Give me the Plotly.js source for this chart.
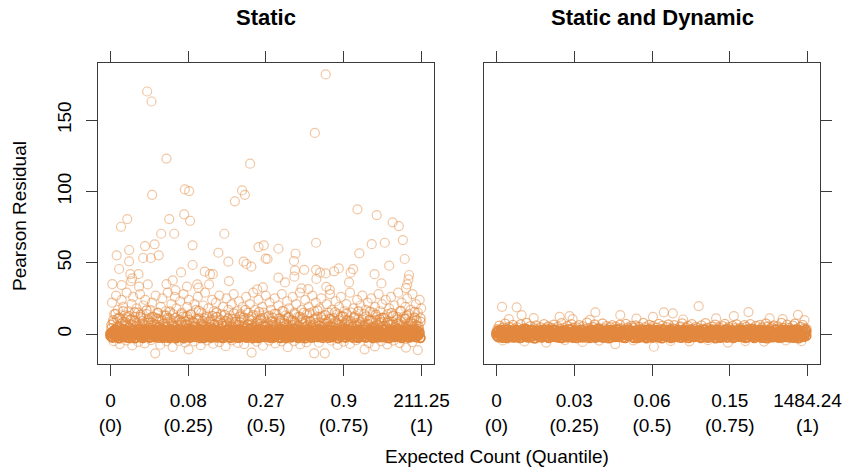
<!DOCTYPE html>
<html>
<head>
<meta charset="utf-8">
<script src="https://cdn.plot.ly/plotly-3.0.1.min.js"></script>
<style>html,body{margin:0;padding:0;background:#fff;}#chart{width:842px;height:470px;}</style>
</head>
<body>
<div id="chart"></div>
<script>
// ---- tick labels / panel names ----
const panelNames = ["Static", "Static and Dynamic"];
const quantileTicks = [0, 0.25, 0.5, 0.75, 1];
const staticTickText = ["0<br>(0)", "0.08<br>(0.25)", "0.27<br>(0.5)", "0.9<br>(0.75)", "211.25<br>(1)"];
const dynamicTickText = ["0<br>(0)", "0.03<br>(0.25)", "0.06<br>(0.5)", "0.15<br>(0.75)", "1484.24<br>(1)"];
const residualTicks = [0, 50, 100, 150];

// ---- shared quantile positions of the dense band near zero ----
const coreQ = [
0.000,0.004,0.007,0.011,0.014,0.018,0.021,0.025,0.029,0.032,
0.036,0.039,0.043,0.046,0.050,0.054,0.057,0.061,0.064,0.068,
0.071,0.075,0.079,0.082,0.086,0.089,0.093,0.096,0.100,0.104,
0.107,0.111,0.114,0.118,0.121,0.125,0.129,0.132,0.136,0.139,
0.143,0.146,0.150,0.154,0.157,0.161,0.164,0.168,0.171,0.175,
0.179,0.182,0.186,0.189,0.193,0.196,0.200,0.204,0.207,0.211,
0.214,0.218,0.221,0.225,0.229,0.232,0.236,0.239,0.243,0.246,
0.250,0.254,0.257,0.261,0.264,0.268,0.271,0.275,0.279,0.282,
0.286,0.289,0.293,0.296,0.300,0.304,0.307,0.311,0.314,0.318,
0.321,0.325,0.329,0.332,0.336,0.339,0.343,0.346,0.350,0.354,
0.357,0.361,0.364,0.368,0.371,0.375,0.379,0.382,0.386,0.389,
0.393,0.396,0.400,0.404,0.407,0.411,0.414,0.418,0.421,0.425,
0.429,0.432,0.436,0.439,0.443,0.446,0.450,0.454,0.457,0.461,
0.464,0.468,0.471,0.475,0.479,0.482,0.486,0.489,0.493,0.496,
0.500,0.504,0.507,0.511,0.514,0.518,0.521,0.525,0.529,0.532,
0.536,0.539,0.543,0.546,0.550,0.554,0.557,0.561,0.564,0.568,
0.571,0.575,0.579,0.582,0.586,0.589,0.593,0.596,0.600,0.604,
0.607,0.611,0.614,0.618,0.621,0.625,0.629,0.632,0.636,0.639,
0.643,0.646,0.650,0.654,0.657,0.661,0.664,0.668,0.671,0.675,
0.679,0.682,0.686,0.689,0.693,0.696,0.700,0.704,0.707,0.711,
0.714,0.718,0.721,0.725,0.729,0.732,0.736,0.739,0.743,0.746,
0.750,0.754,0.757,0.761,0.764,0.768,0.771,0.775,0.779,0.782,
0.786,0.789,0.793,0.796,0.800,0.804,0.807,0.811,0.814,0.818,
0.821,0.825,0.829,0.832,0.836,0.839,0.843,0.846,0.850,0.854,
0.857,0.861,0.864,0.868,0.871,0.875,0.879,0.882,0.886,0.889,
0.893,0.896,0.900,0.904,0.907,0.911,0.914,0.918,0.921,0.925,
0.929,0.932,0.936,0.939,0.943,0.946,0.950,0.954,0.957,0.961,
0.964,0.968,0.971,0.975,0.979,0.982,0.986,0.989,0.993,0.996];

const staticCoreA = [
-1.2,0.8,-2.5,1.9,-0.3,2.7,-1.8,0.2,-2.9,1.4,-0.7,3.1,-1.5,0.5,-2.2,2.3,-0.1,1.1,-2.7,0.9,
2.8,-1.0,0.3,-2.4,1.7,-0.5,3.3,-1.9,0.6,-2.8,2.1,-0.2,1.3,-1.6,0.0,2.6,-2.3,1.0,-0.8,3.0,
-2.0,0.4,1.8,-1.3,2.9,-0.6,0.1,-2.6,1.5,-1.1,2.4,-0.4,0.7,-2.1,3.2,-1.7,1.2,-0.9,2.0,-2.9,
0.6,-1.4,2.5,-0.2,1.6,-2.5,0.9,-0.7,3.4,-1.8,0.2,-2.3,1.9,-1.0,2.8,-0.3,1.1,-2.0,0.5,2.2,
-1.6,3.0,-0.5,1.4,-2.7,0.8,-1.2,2.6,-0.1,1.7,-2.2,0.3,-0.9,3.1,-1.9,1.0,-2.4,2.1,-0.6,0.4,
1.5,-2.8,0.7,-1.1,2.3,-0.4,3.3,-2.1,0.0,1.8,-1.5,2.7,-0.8,0.6,-2.6,1.3,-0.2,2.9,-1.7,0.9,
-0.3,2.0,-2.4,1.1,-1.0,3.2,-0.7,0.5,-2.9,1.6,-0.1,2.5,-1.8,0.2,1.9,-2.2,0.8,-1.3,2.8,-0.5,
1.0,-2.0,2.4,-0.6,0.3,-1.6,3.0,-2.5,1.2,-0.9,2.1,-0.2,0.7,-2.8,1.7,-1.2,2.6,-0.4,0.1,-1.9,
2.9,-0.8,1.4,-2.3,0.6,-1.4,3.4,-0.3,1.0,-2.7,2.2,-1.1,0.4,-2.0,1.8,-0.6,2.7,-1.5,0.0,1.3,
-2.4,0.9,-0.5,2.5,-1.7,0.2,3.1,-2.1,1.5,-0.9,0.7,-2.6,2.0,-0.1,1.1,-1.3,2.9,-0.7,0.5,-2.2,
1.6,-1.0,2.3,-0.4,0.8,-2.9,1.9,-1.6,0.3,3.2,-0.8,1.2,-2.3,0.6,-1.1,2.6,-0.2,1.0,-2.5,0.4,
2.1,-1.4,0.1,-2.0,2.8,-0.6,1.4,-1.8,0.9,3.0,-2.4,0.5,-0.3,1.7,-1.2,2.4,-2.7,0.2,1.3,-0.9,
-1.5,2.7,0.0,-2.2,1.1,-0.5,3.3,-1.7,0.6,-2.6,1.8,-0.1,2.2,-1.0,0.8,-2.1,2.5,-0.7,1.5,-1.9,
0.3,2.0,-2.8,0.7,-1.3,2.9,-0.4,1.2,-2.3,0.1,1.6,-1.5,3.1,-0.6,0.9,-2.0,2.3,-1.1,0.4,-2.7];

const staticCoreB = [
0.4,-2.1,1.6,-0.8,2.9,-1.4,0.1,-2.7,2.2,-0.5,1.0,-1.9,3.2,-0.2,0.7,-2.4,1.8,-1.1,0.3,2.5,
-1.6,0.9,-2.9,1.4,-0.4,2.7,-1.2,0.5,-2.2,1.9,-0.7,3.0,-1.8,0.2,1.2,-2.5,2.1,-0.3,0.8,-1.5,
2.4,-0.9,0.6,-2.6,1.5,-0.1,3.3,-1.7,1.0,-2.3,0.3,2.0,-1.0,-2.8,1.7,-0.6,2.6,-1.3,0.0,1.3,
-2.0,2.8,-0.5,1.1,-1.6,0.4,-2.9,2.3,-0.2,1.6,-1.1,3.1,-2.4,0.8,-0.8,1.9,-1.9,0.5,2.7,-0.4,
1.2,-2.7,0.2,2.1,-1.3,-0.3,3.4,-2.0,0.9,-0.9,1.7,-2.5,2.4,-0.6,0.1,-1.6,2.9,-1.0,0.6,-2.2,
-0.1,1.8,-2.3,0.7,-1.4,2.6,-0.7,1.3,-2.8,0.4,2.2,-1.2,-0.2,3.0,-1.8,1.0,-2.6,2.0,-0.5,0.9,
2.3,-1.7,0.0,-2.4,1.4,-0.8,2.9,-1.5,0.6,-2.0,1.9,-0.3,3.2,-2.7,0.3,1.1,-1.1,2.5,-0.6,-2.1,
0.8,2.0,-1.3,0.2,-2.6,1.6,-0.4,2.8,-1.9,0.5,-0.9,1.3,-2.2,3.1,-0.1,0.9,-1.6,2.2,-2.8,1.5,
-0.7,2.6,-2.0,1.0,-1.0,0.3,3.3,-1.4,1.7,-2.5,0.1,2.3,-0.5,-1.8,1.2,-2.9,2.7,-0.2,0.6,-1.2,
1.9,-0.6,-2.4,0.8,2.4,-1.5,0.0,-2.1,1.5,3.0,-0.9,0.4,-1.7,2.1,-0.3,1.1,-2.6,0.7,2.8,-1.3,
-1.9,0.6,2.2,-0.4,1.3,-2.8,0.9,-1.1,2.7,-0.2,1.6,-2.3,0.2,3.2,-1.4,0.5,-0.8,2.0,-2.0,1.0,
0.3,-1.6,2.5,-2.7,0.7,1.8,-0.6,-1.9,3.1,0.1,-2.2,1.4,-0.9,2.3,-1.3,0.8,-2.5,1.9,-0.1,2.6,
-2.3,1.1,-0.3,2.0,-1.5,0.4,2.9,-2.1,0.9,-0.7,1.7,-2.9,0.6,2.4,-1.0,-0.2,1.5,-1.8,3.3,0.2,
1.6,-1.1,0.5,-2.5,2.1,-0.5,1.2,-1.7,3.0,-2.4,0.0,1.8,-1.4,0.7,2.7,-2.0,0.3,-0.9,1.4,-2.6];

const dynamicCoreA = [
0.9,-1.7,2.6,-0.4,1.3,-2.5,0.2,3.1,-1.1,0.6,-2.8,1.8,-0.7,2.3,-1.9,0.0,1.5,-2.2,2.9,-0.3,
-1.4,0.5,-2.6,1.9,-0.6,3.3,-1.0,0.8,-2.3,1.2,-0.1,2.7,-1.8,0.3,-2.9,1.6,-0.8,2.2,-1.3,0.7,
2.0,-2.4,1.0,-0.2,2.8,-1.6,0.4,-2.7,1.7,-0.9,3.0,-1.2,0.1,-2.0,2.4,-0.5,1.1,-2.6,0.6,1.9,
-0.6,2.5,-1.5,0.3,-2.2,1.4,-0.3,3.2,-1.9,0.9,-1.1,2.1,-2.8,0.5,1.6,-0.7,2.8,-1.4,0.0,-2.4,
1.3,-0.8,2.2,-2.1,0.7,-1.3,2.9,-0.4,1.8,-2.6,0.2,1.0,-1.7,3.1,-0.1,-2.3,1.5,-0.9,2.4,-1.6,
0.4,-2.9,1.7,-0.5,2.6,-1.2,0.8,-2.0,3.4,-0.7,1.2,-1.8,0.3,2.0,-2.5,0.9,-0.2,2.7,-1.4,0.1,
-1.0,2.3,-0.3,1.4,-2.7,0.6,-1.5,2.9,-0.6,1.1,-2.2,0.0,2.5,-1.1,0.7,-2.9,1.9,-0.4,3.0,-1.7,
2.1,-0.1,-1.9,1.0,-0.9,2.7,-2.4,0.4,1.6,-1.3,3.3,-0.6,0.8,-2.1,1.3,-0.2,2.2,-2.7,0.5,-1.0,
-2.0,1.5,0.1,-1.6,2.8,-0.8,0.9,-2.5,1.9,-0.3,2.4,-1.4,0.2,-2.8,1.1,3.1,-1.2,0.6,-0.5,2.0,
0.7,-1.5,2.6,-0.2,-2.3,1.2,-1.0,3.0,-0.7,0.3,-2.6,1.7,-1.8,2.3,0.0,-1.1,1.4,-2.9,2.9,-0.4,
1.8,-2.2,0.5,-0.9,2.1,-1.7,0.2,3.2,-2.4,1.0,-0.5,1.6,-1.3,2.7,-0.1,-2.0,0.9,2.4,-0.8,0.3,
-1.2,2.8,-0.6,1.3,-2.7,0.4,-1.9,2.0,0.8,-0.3,3.4,-2.1,1.1,-1.0,0.6,2.5,-1.6,0.0,1.7,-2.5,
0.2,1.9,-2.8,0.9,-1.4,2.6,-0.5,1.5,-2.2,0.5,-1.2,3.0,-0.2,1.0,-2.6,2.2,-0.9,0.7,-1.8,2.8,
-0.4,1.1,-2.0,2.4,-1.1,0.3,-2.5,1.8,-0.7,2.9,-1.5,0.6,-2.9,1.4,0.1,-0.8,2.1,-1.9,0.4,1.6];

const dynamicCoreB = [
-0.5,1.6,-2.2,0.3,2.8,-1.3,0.9,-2.6,1.2,-0.2,3.1,-1.8,0.6,-0.9,2.0,-2.4,1.4,0.0,-1.5,2.5,
1.0,-2.7,0.4,2.2,-1.0,0.8,-1.9,3.3,-0.4,1.5,-2.3,0.1,2.6,-1.2,0.5,-2.9,1.8,-0.6,2.3,-1.6,
-2.1,0.7,2.9,-0.8,1.3,-1.5,0.2,-2.5,2.4,-0.1,1.0,-1.9,3.0,-0.7,0.4,-2.2,1.7,-1.1,0.9,-2.8,
2.6,-0.3,1.1,-2.0,0.6,-1.2,3.2,-0.9,1.8,-2.6,0.0,2.1,-1.5,0.8,-0.5,1.5,-2.3,2.8,-1.0,0.3,
-1.8,2.0,-0.2,1.4,-2.8,0.5,2.5,-1.4,0.1,-2.1,1.9,-0.6,3.4,-1.7,0.9,-0.3,2.2,-2.5,1.2,-0.8,
0.6,-1.1,2.7,-2.4,1.0,-0.4,1.7,-1.8,0.3,2.9,-2.0,0.7,-1.3,2.3,-0.1,1.3,-2.7,0.4,3.1,-1.4,
1.5,-0.7,0.2,-2.3,2.1,-1.0,0.9,-2.8,1.6,0.0,-1.6,2.6,-0.5,1.1,-2.2,0.5,3.0,-1.2,0.8,-0.2,
-2.5,1.2,-0.8,2.4,-1.7,0.1,2.0,-0.6,1.4,-2.9,0.6,2.7,-1.1,-0.3,1.8,-2.0,0.3,3.3,-1.5,0.9,
0.0,-1.9,2.3,-0.5,1.1,-2.4,0.7,1.9,-1.2,3.0,-0.9,0.4,-2.6,1.6,-0.2,2.5,-1.7,0.8,-2.1,1.3,
2.2,-1.4,0.5,-0.1,-2.7,1.8,-0.8,2.9,-1.9,0.2,1.4,-2.3,0.9,-0.4,3.2,-1.1,0.6,-2.5,1.9,-0.6,
-1.3,0.8,-2.6,1.7,0.1,-1.0,2.6,-2.2,1.0,-0.3,2.0,-1.6,0.3,-2.8,1.5,0.7,-0.7,2.4,-1.9,3.1,
1.1,-2.0,1.9,-0.9,0.4,-2.5,2.8,-0.2,1.3,-1.5,0.0,2.3,-2.7,0.6,-1.2,1.7,-0.4,3.0,-2.3,0.8,
-0.6,2.5,-1.6,0.2,-2.9,1.4,-0.5,2.1,-1.3,0.9,-2.1,3.2,-0.8,1.2,-1.8,0.3,2.7,-2.4,0.5,-1.0,
2.0,-0.9,0.7,-2.2,1.6,-0.3,2.8,-1.7,0.4,-2.6,1.1,-0.7,2.4,-1.4,0.0,-2.0,1.8,-0.6,2.9,-1.2];

// ---- shared quantile positions of the fuzzy fringe just above the band ----
const fringeQ = [
0.003,0.009,0.016,0.022,0.028,0.034,0.041,0.047,0.053,0.059,
0.066,0.072,0.078,0.084,0.091,0.097,0.103,0.109,0.116,0.122,
0.128,0.134,0.141,0.147,0.153,0.159,0.166,0.172,0.178,0.184,
0.191,0.197,0.203,0.209,0.216,0.222,0.228,0.234,0.241,0.247,
0.253,0.259,0.266,0.272,0.278,0.284,0.291,0.297,0.303,0.309,
0.316,0.322,0.328,0.334,0.341,0.347,0.353,0.359,0.366,0.372,
0.378,0.384,0.391,0.397,0.403,0.409,0.416,0.422,0.428,0.434,
0.441,0.447,0.453,0.459,0.466,0.472,0.478,0.484,0.491,0.497,
0.503,0.509,0.516,0.522,0.528,0.534,0.541,0.547,0.553,0.559,
0.566,0.572,0.578,0.584,0.591,0.597,0.603,0.609,0.616,0.622,
0.628,0.634,0.641,0.647,0.653,0.659,0.666,0.672,0.678,0.684,
0.691,0.697,0.703,0.709,0.716,0.722,0.728,0.734,0.741,0.747,
0.753,0.759,0.766,0.772,0.778,0.784,0.791,0.797,0.803,0.809,
0.816,0.822,0.828,0.834,0.841,0.847,0.853,0.859,0.866,0.872,
0.878,0.884,0.891,0.897,0.903,0.909,0.916,0.922,0.928,0.934,
0.941,0.947,0.953,0.959,0.966,0.972,0.978,0.984,0.991,0.997];

const staticFringeR = [
4.2,7.8,3.5,10.6,5.1,3.9,8.7,6.0,11.8,4.6,
6.9,3.3,9.4,5.5,4.0,12.1,7.2,3.7,5.8,9.9,
4.4,8.1,3.2,6.5,10.8,4.9,3.6,7.5,5.2,11.3,
3.8,6.2,9.0,4.3,5.7,3.4,8.4,12.4,4.7,6.8,
10.1,3.6,5.4,7.9,4.1,9.6,3.3,6.4,11.0,5.0,
4.5,8.9,3.9,6.7,12.0,4.8,3.5,7.3,5.6,9.2,
3.7,5.9,10.4,4.2,7.0,3.4,8.6,5.3,11.6,4.0,
6.6,3.8,9.8,5.0,4.4,7.7,3.2,10.9,6.1,4.9,
8.2,3.6,5.5,11.5,4.3,6.9,3.9,9.3,5.1,7.6,
4.7,12.2,3.5,6.3,8.8,4.1,5.7,3.3,10.3,7.1,
5.4,3.9,9.1,4.6,6.6,11.1,3.7,8.0,5.0,4.2,
7.4,3.4,10.7,5.8,4.5,8.5,3.8,6.2,12.3,4.9,
3.6,9.5,5.3,7.2,4.0,11.9,6.0,3.5,8.3,5.6,
4.8,6.8,3.3,10.0,5.2,4.4,9.7,3.9,7.8,11.4,
5.9,4.1,8.0,3.6,6.4,12.5,4.7,7.1,3.4,9.0,
4.3,10.5,5.5,3.8,7.6,4.9,11.7,6.3,3.5,8.7];

const staticFringeR2 = [
6.5,9.8,14.2,5.4,11.7,7.3,16.1,8.6,5.9,12.8,
10.2,6.1,15.3,7.8,5.2,13.6,9.1,6.8,16.7,8.0,
5.7,12.1,7.0,10.9,14.8,6.3,9.5,5.1,13.0,8.4,
15.9,7.5,5.5,11.3,6.7,9.9,14.0,5.8,8.8,12.5,
6.0,13.8,8.2,5.3,10.6,16.4,7.1,9.3,5.6,11.9,
8.7,5.0,12.7,6.9,15.1,7.7,10.0,5.9,13.4,6.4,
11.0,7.9,5.4,14.5,8.5,6.2,12.3,9.7,5.2,16.9,
7.2,10.4,6.6,13.2,5.8,9.0,15.6,7.4,11.5,6.0,
5.3,12.9,8.9,6.5,14.3,5.7,10.8,7.6,16.2,9.4,
6.8,11.4,5.1,9.6,13.9,7.0,5.5,12.2,8.1,15.0,
9.2,6.3,14.7,5.9,10.3,7.8,16.6,6.1,11.8,5.4,
13.3,8.3,5.6,10.7,6.9,15.4,7.3,9.8,5.0,12.6,
7.6,14.1,6.4,9.1,5.2,11.2,8.0,16.0,6.7,10.1,
5.8,12.4,7.1,15.7,9.5,5.4,13.7,6.2,10.5,8.6,
11.6,5.5,9.0,6.6,14.9,8.4,5.1,12.0,7.5,16.3,
6.1,10.9,13.1,5.7,8.8,7.2,15.5,9.7,5.3,11.1];

const dynamicFringeR = [
3.4,5.9,2.8,4.6,7.3,3.1,5.0,2.6,6.4,3.8,
4.9,2.7,6.8,3.5,4.2,7.9,3.0,5.5,2.9,4.0,
6.1,3.3,4.8,2.5,7.0,3.9,5.3,3.2,4.4,6.6,
2.8,5.1,3.6,7.6,4.1,2.6,5.8,3.4,6.9,4.5,
3.0,4.7,6.3,2.9,5.4,3.7,8.0,4.2,2.7,5.0,
6.7,3.5,4.4,2.6,7.4,3.9,5.6,3.1,4.8,6.2,
2.9,5.2,3.8,6.5,4.0,2.8,7.2,4.6,3.3,5.7,
4.3,6.0,2.7,5.1,3.6,7.8,4.9,3.0,6.4,3.9,
5.5,2.9,4.5,7.1,3.4,5.9,2.6,4.8,6.7,3.2,
4.1,6.3,3.7,2.8,5.3,7.5,3.1,4.6,5.8,2.9,
6.9,3.6,5.0,4.2,2.7,6.1,3.8,7.7,4.4,3.3,
5.2,2.8,6.6,3.5,4.7,3.0,5.6,7.2,3.9,4.9,
2.6,5.8,4.1,6.8,3.2,4.5,2.9,6.2,5.1,3.7,
7.0,4.0,3.4,5.7,2.8,6.5,4.6,3.1,7.4,5.3,
3.6,4.8,6.0,2.7,5.4,3.9,7.9,4.3,3.0,6.6,
4.4,3.2,5.9,7.3,3.8,2.9,5.0,6.4,4.2,3.5];

// ---- Static model: moderate residuals (about 9 to 29) ----
const staticMidQ = [0.005,0.012,0.018,0.024,0.03,0.036,0.041,0.047,0.052,0.058,0.063,0.068,0.073,0.079,0.084,0.089,0.095,0.1,0.106,0.112,
0.117,0.122,0.128,0.134,0.139,0.145,0.15,0.156,0.162,0.167,0.172,0.178,0.184,0.19,0.196,0.201,0.207,0.212,0.218,0.224,
0.229,0.235,0.241,0.247,0.252,0.258,0.264,0.27,0.275,0.281,0.287,0.292,0.298,0.304,0.31,0.315,0.321,0.327,0.333,0.339,
0.344,0.35,0.356,0.362,0.367,0.373,0.379,0.385,0.39,0.396,0.402,0.408,0.413,0.419,0.425,0.43,0.436,0.442,0.448,0.453,
0.459,0.465,0.47,0.476,0.482,0.488,0.493,0.499,0.505,0.511,0.516,0.522,0.528,0.534,0.54,0.545,0.551,0.557,0.563,0.568,
0.574,0.58,0.586,0.591,0.597,0.603,0.609,0.614,0.62,0.626,0.632,0.637,0.643,0.649,0.655,0.66,0.666,0.672,0.678,0.683,
0.689,0.695,0.701,0.706,0.712,0.718,0.724,0.729,0.735,0.741,0.747,0.752,0.758,0.764,0.77,0.775,0.781,0.787,0.793,0.798,
0.804,0.81,0.816,0.821,0.827,0.833,0.839,0.844,0.85,0.856,0.862,0.867,0.873,0.879,0.885,0.89,0.896,0.902,0.908,0.913,
0.919,0.925,0.931,0.936,0.942,0.948,0.954,0.959,0.965,0.971,0.977,0.982,0.988,0.994,0.999];
const staticMidR = [22,14,27,17,11,24,19,13,29,16,10,21,26,12,18,15,28,11,20,24,
14,9,17,22,12,27,15,10,19,25,13,16,29,11,21,14,26,18,10,23,
15,28,12,19,24,14,9,21,17,26,11,15,20,29,13,18,10,24,16,22,
12,27,14,19,9,25,17,13,21,28,11,16,23,14,19,10,26,15,21,12,
29,17,13,24,10,19,15,27,12,22,17,9,25,14,20,11,28,16,13,23,
18,10,26,15,21,12,29,17,11,24,14,19,9,27,16,22,12,18,25,13,
10,21,15,28,17,11,23,14,19,26,12,16,21,10,29,15,18,13,24,11,
20,27,14,17,22,10,25,15,19,12,28,16,21,11,24,14,18,26,13,20,
10,29,16,22,12,19,25,14,17,28,11,21,15,24,18];

// ---- Static model: large residuals ----
const staticHighQ = [0.118,0.132,0.18,0.449,0.134,0.239,0.253,0.423,0.432,0.4,0.692,0.657,
0.054,0.034,0.189,0.237,0.256,0.163,0.205,0.366,0.264,0.111,0.142,0.06,0.476,0.493,0.02,0.105,0.13,0.155,
0.06,0.347,0.264,0.379,0.428,0.437,0.453,0.499,0.028,0.064,0.09,0.227,0.2,0.303,0.32,0.329,0.381,0.006,
0.036,0.066,0.07,0.12,0.092,0.18,0.209,0.246,0.279,0.283,0.317,0.49,0.472,
0.794,0.856,0.907,0.927,0.94,0.661,0.54,0.505,0.84,0.882,0.8,0.946,0.595,0.59,0.896,0.623,0.661,0.674,
0.692,0.719,0.734,0.78,0.772,0.593,0.591,0.561,0.54,0.849,0.96,0.958,0.954,0.95,0.662,0.767,0.871,0.614,
0.636,0.694,0.705];
const staticHighR = [170,163,123,119.4,97.6,101.4,100.2,100.7,97.6,93,182,141,
80.6,75.2,80.6,83.9,79.4,70.3,70.3,70.3,62.2,61.7,62.9,58.9,61,62.2,55.2,53.3,53.3,55.2,
51,57,48.4,50.7,50.7,49.1,47.2,52.8,45.6,42,42,43.2,37.6,43.7,42,42,37.1,35,
34.3,37,39,34.8,33.2,35,30.8,33.2,34.8,32.5,34.8,32.7,31.3,
87.4,83.4,78.3,75.7,65.9,64,59.8,52.6,63,64,56.5,52.6,56.3,51.2,47.9,45,45,43,
42.5,44,46,45.5,43,44.6,40.2,36.2,39.5,42,41.4,38.3,34.8,32.2,38.6,36.2,35.5,32,
31.5,33,31];

// ---- Static model: negative residuals below the band ----
const staticLowQ = [0.01,0.03,0.05,0.07,0.09,0.11,0.13,0.144,0.16,0.18,0.2,0.22,0.24,0.251,0.27,0.29,0.31,0.33,0.35,0.37,
0.39,0.41,0.43,0.454,0.47,0.49,0.51,0.53,0.55,0.57,0.59,0.61,0.63,0.655,0.67,0.689,0.71,0.73,0.75,0.77,
0.79,0.817,0.83,0.85,0.87,0.89,0.91,0.93,0.95,0.97,0.988];
const staticLowR = [-5,-7,-4.5,-8,-5.5,-6.5,-4.2,-13.5,-7.5,-5,-9,-4.8,-6,-10.7,-5.2,-7.8,-4.5,-6.8,-5.6,-8.5,
-4.4,-6.2,-7.1,-13,-5.3,-8.2,-4.6,-6.6,-5.1,-9.2,-4.9,-7.3,-5.8,-13.5,-6.1,-13.5,-4.7,-7.6,-5.4,-6.9,
-4.3,-10.7,-6.4,-8.6,-5.0,-7.2,-4.6,-6.3,-9.5,-5.7,-11.2];

// ---- Static and Dynamic model: extremes ----
const dynamicHighQ = [0.018,0.065,0.081,0.65,0.81,0.969,0.538,0.567,0.398,0.318,0.203,0.235,0.245,0.503,0.763,0.706,0.878,0.04,0.12,0.3,0.45,0.6,0.92,0.99];
const dynamicHighR = [19.1,18.7,13.3,19.6,15.4,13.5,15.2,14.5,13.3,15.2,12,12.5,10.5,12,12.6,11,11,10.5,11.2,10,10.8,10.2,10.5,9.8];
const dynamicLowQ = [0.02,0.09,0.16,0.22,0.277,0.33,0.382,0.44,0.506,0.56,0.62,0.68,0.744,0.8,0.86,0.93,0.98];
const dynamicLowR = [-4.5,-5.2,-6,-4.2,-5.5,-4.6,-7,-4.4,-8.9,-4.8,-5.1,-4.3,-6,-4.9,-5.3,-4.5,-5.0];

// ---- assemble ----
function panel(groups) {
  const x = [], y = [];
  groups.forEach(g => { const n = Math.min(g[0].length, g[1].length); x.push(...g[0].slice(0, n)); y.push(...g[1].slice(0, n)); });
  return {x, y};
}
const ORANGE = '226,136,62';
function mk(alpha, w) { const c = 'rgba(' + ORANGE + ',' + alpha + ')'; return {symbol: 'circle-open', size: 9, color: c, line: {width: w, color: c}}; }
function trace(pts, xa, ya, alpha, w) { return {type: 'scatter', mode: 'markers', x: pts.x, y: pts.y, xaxis: xa, yaxis: ya, marker: mk(alpha, w), hoverinfo: 'skip'}; }

const traces = [
  trace(panel([[staticLowQ, staticLowR], [staticMidQ, staticMidR], [staticHighQ, staticHighR]]), 'x', 'y', 0.48, 1.2),
  trace(panel([[fringeQ, staticFringeR], [fringeQ, staticFringeR2]]), 'x', 'y', 0.65, 1.3),
  trace(panel([[coreQ, staticCoreA], [coreQ, staticCoreB]]), 'x', 'y', 1, 1.6),
  trace(panel([[dynamicLowQ, dynamicLowR], [dynamicHighQ, dynamicHighR]]), 'x2', 'y2', 0.48, 1.2),
  trace(panel([[fringeQ, dynamicFringeR]]), 'x2', 'y2', 0.65, 1.3),
  trace(panel([[coreQ, dynamicCoreA], [coreQ, dynamicCoreB]]), 'x2', 'y2', 1, 1.6)
];

const FONT = 'Liberation Sans, Arial, Helvetica, sans-serif';
const axisCommon = {showgrid: false, zeroline: false, showline: true, linecolor: '#3a3a3a', linewidth: 1,
  ticks: 'outside', ticklen: 11, tickcolor: '#3a3a3a', tickwidth: 1, tickfont: {family: FONT, size: 19, color: '#000'}, fixedrange: true};
const yRange = [-21, 190];
const yDomain = [0.2255, 0.866];
const layout = {
  width: 842, height: 470, margin: {l: 0, r: 0, t: 0, b: 0},
  paper_bgcolor: '#fff', plot_bgcolor: '#fff', showlegend: false,
  font: {family: FONT, size: 19, color: '#000'},
  xaxis: Object.assign({}, axisCommon, {domain: [0.1164, 0.5154], range: [-0.04, 1.04], anchor: 'y', mirror: 'ticks',
    tickmode: 'array', tickvals: quantileTicks, ticktext: staticTickText, ticklabelstandoff: 8, ticklabeloverflow: 'allow'}),
  yaxis: Object.assign({}, axisCommon, {domain: yDomain, range: yRange, anchor: 'x', mirror: true,
    tickmode: 'array', tickvals: residualTicks, ticktext: residualTicks.map(String), tickangle: -90, ticklabelstandoff: 7}),
  xaxis2: Object.assign({}, axisCommon, {domain: [0.5748, 0.9739], range: [-0.04, 1.04], anchor: 'y2', mirror: 'ticks',
    tickmode: 'array', tickvals: quantileTicks, ticktext: dynamicTickText, ticklabelstandoff: 8, ticklabeloverflow: 'allow'}),
  yaxis2: Object.assign({}, axisCommon, {domain: yDomain, range: yRange, anchor: 'x2', side: 'right', mirror: true,
    tickmode: 'array', tickvals: residualTicks, showticklabels: false}),
  annotations: [
    {text: '<b>' + panelNames[0] + '</b>', xref: 'paper', yref: 'paper', x: 266/842, y: 1 - 18/470, showarrow: false, font: {family: FONT, size: 22}, xanchor: 'center', yanchor: 'middle'},
    {text: '<b>' + panelNames[1] + '</b>', xref: 'paper', yref: 'paper', x: 652/842, y: 1 - 18/470, showarrow: false, font: {family: FONT, size: 22}, xanchor: 'center', yanchor: 'middle'},
    {text: 'Expected Count (Quantile)', xref: 'paper', yref: 'paper', x: 497/842, y: 1 - 456/470, showarrow: false, font: {family: FONT, size: 19}, xanchor: 'center', yanchor: 'middle'},
    {text: 'Pearson Residual', xref: 'paper', yref: 'paper', x: 19/842, y: 1 - 216/470, showarrow: false, textangle: -90, font: {family: FONT, size: 19}, xanchor: 'center', yanchor: 'middle'}
  ]
};
Plotly.newPlot('chart', traces, layout, {staticPlot: true, displayModeBar: false});
</script>
</body>
</html>
